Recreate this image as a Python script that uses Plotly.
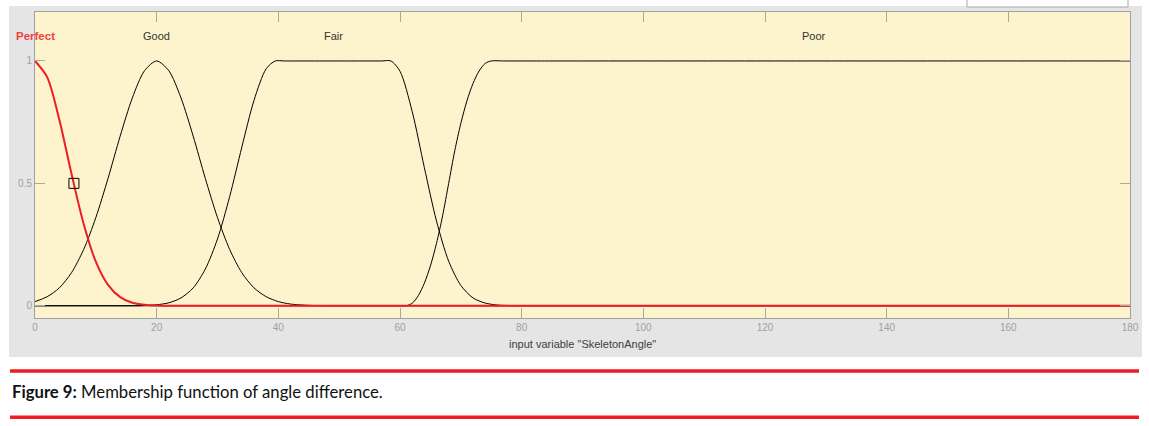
import plotly.graph_objects as go

W, H = 1149, 426

# ---- data ----
perfect_x = [0, 2, 4, 6, 8, 10, 12, 14, 16, 18, 20, 24, 30, 60, 120, 180]
perfect_y = [1.0, 0.934, 0.76, 0.539, 0.334, 0.18, 0.085, 0.035, 0.012, 0.004, 0.001, 0, 0, 0, 0, 0]

good_x = [0, 2, 4, 6, 8, 10, 12, 14, 16, 18, 20, 22, 24, 26, 28, 30, 32, 34, 36, 38, 40, 42, 44, 46, 48, 52, 60, 120, 180]
good_y = [0.017, 0.037, 0.073, 0.135, 0.23, 0.36, 0.52, 0.693, 0.849, 0.96, 1.0, 0.96, 0.849, 0.693, 0.52,
          0.36, 0.23, 0.135, 0.073, 0.037, 0.017, 0.007, 0.003, 0.001, 0, 0, 0, 0, 0]

fair_x = [0, 10, 16, 18, 20, 22, 24, 26, 28, 30, 32, 34, 36, 38, 39.5, 41, 45, 50, 55, 57, 58.5,
          60, 62, 64, 66, 68, 70, 72, 74, 76, 78, 80, 84, 100, 140, 180]
fair_y = [0, 0, 0, 0.001, 0.004, 0.012, 0.032, 0.073, 0.15, 0.273, 0.446, 0.648, 0.839, 0.968, 1.0, 1.0, 1.0, 1.0, 1.0, 1.0, 1.0,
          0.958, 0.794, 0.565, 0.346, 0.182, 0.083, 0.032, 0.011, 0.003, 0.001, 0, 0, 0, 0, 0]

poor_x = [0, 30, 55, 58, 60, 61, 62, 63, 64, 65, 66, 67, 68, 69, 70, 71, 72, 73, 74, 75, 77, 80, 90, 120, 150, 180]
poor_y = [0, 0, 0, 0, 0, 0, 0.01, 0.041, 0.092, 0.163, 0.255, 0.367, 0.5, 0.633, 0.745, 0.837, 0.908, 0.959, 0.99,
          1.0, 1.0, 1.0, 1.0, 1.0, 1.0, 1.0]

mf_names = ["Perfect", "Good", "Fair", "Poor"]
mf_label_x = [0, 20, 49, 128]
mf_label_y = [1.1, 1.1, 1.1, 1.1]

sel_point_x = [6.4]
sel_point_y = [0.5]

x_ticks = [0, 20, 40, 60, 80, 100, 120, 140, 160, 180]
y_ticks = [0, 0.5, 1]
y_tick_text = ["0", "0.5", "1"]

x_title = 'input variable "SkeletonAngle"'
caption_bold = "Figure 9:"
caption_rest = " Membership function of angle difference."

# ---- layout geometry (pixels) ----
px_l, px_r, px_t, px_b = 35, 1130, 12, 318
dom_x = [px_l / W, px_r / W]
dom_y = [(H - px_b) / H, (H - px_t) / H]

def py(y):
    return (H - y) / H

def pxx(x):
    return x / W

fig = go.Figure()

for xs, ys in [(good_x, good_y), (fair_x, fair_y), (poor_x, poor_y)]:
    fig.add_trace(go.Scatter(x=xs, y=ys, mode="lines", line=dict(color="black", width=1, shape="spline", smoothing=0.8),
                             hoverinfo="skip", showlegend=False))
fig.add_trace(go.Scatter(x=perfect_x, y=perfect_y, mode="lines",
                         line=dict(color="#ee1c25", width=2, shape="spline", smoothing=0.8),
                         hoverinfo="skip", showlegend=False))
fig.add_trace(go.Scatter(x=sel_point_x, y=sel_point_y, mode="markers",
                         marker=dict(symbol="square-open", size=10, color="black", line=dict(width=1)),
                         hoverinfo="skip", showlegend=False))

shapes = [
    dict(type="rect", xref="paper", yref="paper", x0=pxx(9), x1=pxx(1142), y0=py(357), y1=py(6),
         fillcolor="#e5e5e5", line=dict(width=0), layer="below"),
    dict(type="rect", xref="paper", yref="paper", x0=dom_x[0], x1=dom_x[1], y0=dom_y[0], y1=dom_y[1],
         fillcolor="#fdf3cc", line=dict(width=0), layer="below"),
    dict(type="rect", xref="paper", yref="paper", x0=pxx(967), x1=pxx(1128), y0=py(7), y1=py(-5),
         fillcolor="white", line=dict(color="#a8a8a8", width=1), layer="above"),
    dict(type="line", xref="paper", yref="paper", x0=pxx(10), x1=pxx(1139), y0=py(371), y1=py(371),
         line=dict(color="#ee1c25", width=3.5)),
    dict(type="line", xref="paper", yref="paper", x0=pxx(10), x1=pxx(1139), y0=py(417.3), y1=py(417.3),
         line=dict(color="#ee1c25", width=3.5)),
]

annotations = []
for name, lx, ly in zip(mf_names, mf_label_x, mf_label_y):
    sel = name == "Perfect"
    annotations.append(dict(x=lx, y=ly, xref="x", yref="y", text=("<b>%s</b>" % name) if sel else name,
                            showarrow=False, xanchor="center", yanchor="middle",
                            font=dict(family="Liberation Sans, Arial, sans-serif", size=11.5 if sel else 11,
                                      color="#f04040" if sel else "#333333")))
annotations.append(dict(x=(dom_x[0] + dom_x[1]) / 2, y=py(343.5), xref="paper", yref="paper", text=x_title,
                        showarrow=False, xanchor="center", yanchor="middle",
                        font=dict(family="Liberation Sans, Arial, sans-serif", size=11, color="#404040")))
annotations.append(dict(x=pxx(10), y=py(392), xref="paper", yref="paper",
                        text="<b>%s</b>%s" % (caption_bold, caption_rest),
                        showarrow=False, xanchor="left", yanchor="middle",
                        font=dict(family="Lato, Open Sans, sans-serif", size=16.7, color="#111111")))

axis_common = dict(showline=True, linecolor="#a0a0a0", linewidth=1, mirror="ticks", ticks="inside",
                   ticklen=10, tickcolor="#a8a8a8", tickwidth=1, showgrid=False, zeroline=False,
                   automargin=False,
                   tickfont=dict(family="Liberation Sans, Arial, sans-serif", size=10, color="#a0a0a0"))

fig.update_layout(
    width=W, height=H, autosize=False,
    margin=dict(l=0, r=0, t=0, b=0, pad=0, autoexpand=False),
    paper_bgcolor="white", plot_bgcolor="rgba(0,0,0,0)",
    xaxis=dict(domain=dom_x, range=[0, 180], tickvals=x_ticks, **axis_common),
    yaxis=dict(domain=dom_y, range=[-0.05, 1.2], tickvals=y_ticks, ticktext=y_tick_text, **axis_common),
    shapes=shapes, annotations=annotations, showlegend=False,
)

fig.write_html("out.html", config={"responsive": False},
               post_script="document.body.style.margin='0';document.body.style.overflow='hidden';"
                           "document.documentElement.style.overflow='hidden';")
